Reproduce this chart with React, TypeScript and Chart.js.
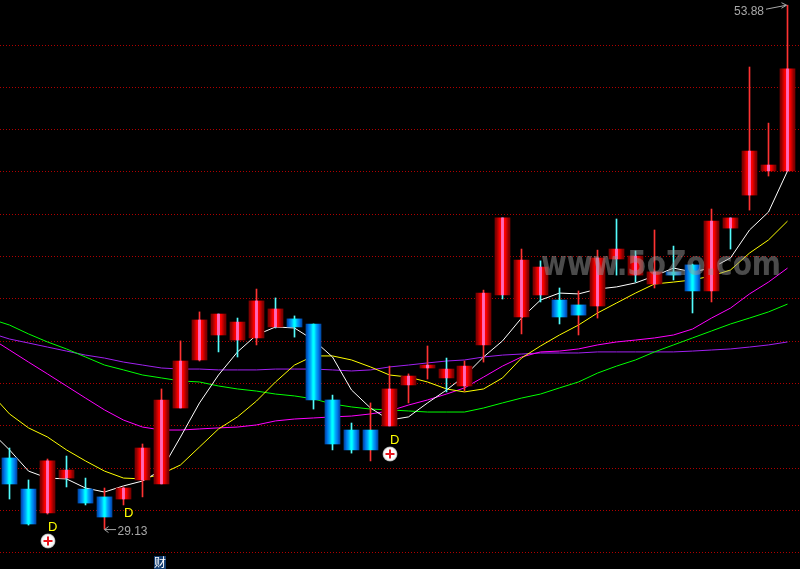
import React, { useEffect, useRef } from "react";
import { Chart, registerables } from "chart.js";

Chart.register(...registerables);

const opens = [32.49, 31.02, 29.89, 31.54, 31.02, 30.65, 30.55, 31.45, 31.26, 34.85, 37.12, 38.30, 38.06, 38.16, 38.68, 39.06, 38.82, 35.23, 33.81, 33.81, 34.00, 35.94, 36.74, 36.27, 35.89, 37.83, 40.19, 39.15, 40.19, 39.95, 39.72, 39.67, 41.89, 41.13, 40.71, 41.28, 41.61, 40.38, 43.35, 44.91, 46.05, 46.05];
const closes = [31.26, 29.37, 32.35, 31.92, 30.36, 29.70, 31.07, 32.96, 35.23, 37.07, 39.01, 39.29, 38.91, 39.91, 39.53, 38.68, 35.23, 33.15, 32.87, 32.87, 35.75, 36.36, 36.88, 36.69, 36.83, 40.28, 43.83, 41.84, 41.51, 39.15, 39.24, 41.94, 42.36, 42.03, 41.28, 41.13, 40.38, 43.68, 43.83, 46.99, 46.33, 50.87];
const highs = [32.96, 31.45, 32.44, 32.58, 31.54, 31.07, 31.12, 33.15, 35.75, 38.02, 39.39, 39.29, 39.10, 40.47, 40.05, 39.20, 38.82, 35.46, 34.14, 35.09, 36.83, 36.46, 37.78, 37.21, 37.07, 40.42, 43.83, 42.36, 41.80, 40.52, 40.38, 42.31, 43.78, 42.27, 43.26, 42.50, 41.65, 44.25, 43.83, 50.96, 48.31, 53.88];
const lows = [30.55, 29.32, 29.84, 31.12, 30.27, 29.13, 30.27, 30.65, 31.26, 34.85, 37.07, 37.50, 37.26, 37.83, 38.63, 38.20, 34.80, 32.87, 32.72, 32.35, 34.00, 35.09, 36.22, 35.61, 35.65, 37.02, 40.00, 38.35, 39.86, 38.82, 38.30, 39.10, 41.13, 40.80, 40.52, 40.90, 39.34, 39.86, 42.36, 44.20, 45.81, 46.05];
const cyanWicks = [0, 1, 3, 4, 11, 12, 14, 15, 16, 17, 18, 23, 26, 28, 29, 32, 33, 35, 36, 38];

// moving averages: first value belongs to the session just before the visible window
const maWhite = [33.76, 32.87, 31.87, 31.54, 31.50, 31.07, 30.88, 31.17, 31.40, 31.92, 33.48, 35.09, 36.41, 37.50, 38.30, 38.68, 38.63, 38.06, 37.26, 35.70, 34.85, 34.28, 34.43, 35.09, 35.70, 36.36, 37.26, 38.02, 39.10, 39.95, 40.28, 40.24, 40.47, 40.57, 40.76, 41.09, 41.46, 41.28, 41.46, 41.94, 43.26, 44.11, 46.05];
const maYellow = [35.56, 34.57, 33.91, 33.48, 32.87, 32.35, 31.87, 31.54, 31.50, 31.73, 32.16, 33.01, 33.86, 34.43, 35.18, 36.08, 36.88, 37.31, 37.31, 37.12, 36.79, 36.41, 36.31, 36.08, 35.75, 35.61, 35.75, 36.27, 37.21, 37.78, 38.30, 38.77, 39.34, 39.81, 40.28, 40.71, 40.80, 40.90, 41.09, 41.37, 42.17, 42.79, 43.68];
const maMagenta = [38.16, 37.59, 37.02, 36.46, 35.89, 35.32, 34.76, 34.28, 33.95, 33.81, 33.81, 33.86, 33.91, 33.95, 34.05, 34.24, 34.33, 34.38, 34.43, 34.47, 34.57, 34.71, 34.99, 35.23, 35.51, 35.80, 36.31, 36.83, 37.26, 37.50, 37.54, 37.64, 37.83, 37.97, 38.06, 38.16, 38.30, 38.58, 39.10, 39.57, 40.24, 40.80, 41.46];
const maGreen = [39.06, 38.77, 38.35, 37.97, 37.64, 37.26, 36.88, 36.65, 36.41, 36.27, 36.13, 36.08, 35.89, 35.75, 35.65, 35.51, 35.42, 35.28, 35.04, 34.90, 34.80, 34.76, 34.71, 34.66, 34.66, 34.66, 34.85, 35.09, 35.32, 35.51, 35.80, 36.08, 36.50, 36.83, 37.12, 37.50, 37.83, 38.16, 38.49, 38.82, 39.10, 39.39, 39.76];
const maPurple = [38.39, 38.11, 37.92, 37.73, 37.54, 37.35, 37.21, 37.02, 36.88, 36.74, 36.69, 36.69, 36.65, 36.65, 36.65, 36.69, 36.69, 36.69, 36.65, 36.60, 36.65, 36.79, 36.88, 36.98, 37.07, 37.12, 37.26, 37.35, 37.40, 37.45, 37.45, 37.45, 37.50, 37.50, 37.50, 37.50, 37.50, 37.54, 37.59, 37.64, 37.73, 37.83, 37.97];

const signalSessions = [2, 6, 20];
const buySessions = [2, 20];
const highLabel = "53.88";
const lowLabel = "29.13";
const watermark = "www.5oZo.com";
const badge = "财";
const TOP_GRID_PRICE = 52;

const REDS = ["#800000", "#900000", "#b00000", "#d00000", "#f00000", "#ff0000", "#ff60b0", "#ff69b4", "#ff60b0", "#ff0000", "#f00000", "#d00000", "#b00000", "#900000", "#800000"];
const BLUES = ["#0050b0", "#0060d0", "#0078e8", "#0090f0", "#00a8f8", "#00c8ff", "#00f0ff", "#00ffff", "#00f0ff", "#00c8ff", "#00a8f8", "#0090f0", "#0078e8", "#0060d0", "#0050b0"];

const BAR_WIDTH = REDS.length;
// sessions after the 24th sit one pixel closer, as in the terminal's rounding
const xOf = (i: number) => (i < 24 ? i : i - 1 / 19);

function stripes(chart: any, i: number, colors: string[]) {
  const cx = chart.scales.x ? chart.scales.x.getPixelForValue(xOf(i)) : NaN;
  if (!Number.isFinite(cx)) return colors[7];
  const left = cx - BAR_WIDTH / 2;
  const g = chart.ctx.createLinearGradient(left, 0, left + BAR_WIDTH, 0);
  colors.forEach((c, k) => {
    g.addColorStop(k / colors.length, c);
    g.addColorStop((k + 1) / colors.length, c);
  });
  return g;
}

const overlay = {
  id: "overlay",
  beforeDraw(chart: any) {
    const { ctx, width, height } = chart;
    ctx.save();
    ctx.fillStyle = "#000";
    ctx.fillRect(0, 0, width, height);
    ctx.restore();
  },
  afterDatasetsDraw(chart: any) {
    const { ctx, scales } = chart;
    const x = scales.x;
    const y = scales.y;
    ctx.save();

    // signal letters
    ctx.font = "13px 'Liberation Sans'";
    ctx.fillStyle = "#ffff00";
    ctx.textAlign = "left";
    ctx.textBaseline = "alphabetic";
    signalSessions.forEach((i) => {
      const bottom = y.getPixelForValue(Math.min(opens[i], closes[i]));
      ctx.fillText("D", x.getPixelForValue(xOf(i)) + 0.5, bottom + 18);
    });

    // buy markers
    buySessions.forEach((i) => {
      const cx = x.getPixelForValue(xOf(i)) + 0.5;
      const cy = y.getPixelForValue(Math.min(opens[i], closes[i])) + 28;
      const g = ctx.createRadialGradient(cx, cy, 3, cx, cy, 7.5);
      g.addColorStop(0, "#ffffff");
      g.addColorStop(0.7, "#f4f4f4");
      g.addColorStop(1, "#8a8a8a");
      ctx.fillStyle = g;
      ctx.beginPath();
      ctx.arc(cx, cy, 7.5, 0, Math.PI * 2);
      ctx.fill();
      ctx.fillStyle = "#e8141c";
      ctx.fillRect(cx - 4.5, cy - 1, 9, 2);
      ctx.fillRect(cx - 1, cy - 4.5, 2, 9);
    });

    // extreme labels with arrows
    ctx.font = "12px 'Liberation Sans'";
    ctx.fillStyle = "#a8a8a8";
    ctx.strokeStyle = "#a8a8a8";
    ctx.lineWidth = 1;
    const hiX = x.getPixelForValue(xOf(41));
    const hiY = y.getPixelForValue(Math.max(...highs));
    ctx.textAlign = "right";
    ctx.fillText(highLabel, hiX - 23.5, hiY + 10);
    ctx.beginPath();
    ctx.moveTo(hiX - 21.5, hiY + 4);
    ctx.lineTo(hiX - 1, hiY);
    ctx.moveTo(hiX - 6, hiY - 2.5);
    ctx.lineTo(hiX - 1, hiY);
    ctx.lineTo(hiX - 6, hiY + 3);
    ctx.stroke();

    const loX = x.getPixelForValue(xOf(5));
    const loY = y.getPixelForValue(Math.min(...lows));
    ctx.textAlign = "left";
    ctx.fillText(lowLabel, loX + 13, loY + 6);
    ctx.beginPath();
    ctx.moveTo(loX + 11.5, loY + 0.5);
    ctx.lineTo(loX, loY + 0.5);
    ctx.moveTo(loX + 4, loY - 2.5);
    ctx.lineTo(loX, loY + 0.5);
    ctx.lineTo(loX + 4, loY + 3.5);
    ctx.stroke();

    // badge at the foot of the chart
    ctx.fillStyle = "#123c70";
    ctx.fillRect(154, 556, 12, 13);
    ctx.fillStyle = "#ffffff";
    ctx.font = "12px 'Noto Sans CJK SC'";
    ctx.textAlign = "center";
    ctx.fillText(badge, 160, 567);

    // watermark
    ctx.font = "bold 33px 'DejaVu Sans'";
    ctx.fillStyle = "rgba(150,150,150,0.5)";
    ctx.textAlign = "left";
    ctx.fillText(watermark, 541, 275, 240);
    ctx.restore();
  },
};

export default function App() {
  const ref = useRef<HTMLCanvasElement>(null);

  useEffect(() => {
    if (!ref.current) return;
    const line = (label: string, values: number[], color: string) => ({
      type: "line" as const,
      label,
      data: values.map((v, i) => ({ x: xOf(i - 1), y: v })),
      borderColor: color,
      borderWidth: 1,
      pointRadius: 0,
      tension: 0,
      order: 3,
    });
    const chart = new Chart(ref.current, {
      type: "bar",
      data: {
        datasets: [
          line("MA5", maWhite, "#ffffff"),
          line("MA10", maYellow, "#ffff00"),
          line("MA20", maMagenta, "#ff00ff"),
          line("MA30", maGreen, "#00ff00"),
          line("MA60", maPurple, "#a020f0"),
          {
            type: "bar" as const,
            label: "wick",
            data: highs.map((h, i) => ({ x: xOf(i), y: [lows[i], h] })),
            backgroundColor: (c: any) => (cyanWicks.includes(c.dataIndex) ? "#54fcfc" : "#ff3232"),
            barThickness: 1,
            grouped: false,
            order: 2,
          },
          {
            type: "bar" as const,
            label: "body",
            data: opens.map((o, i) => ({ x: xOf(i), y: [o, closes[i]] })),
            backgroundColor: (c: any) =>
              closes[c.dataIndex] >= opens[c.dataIndex]
                ? stripes(c.chart, c.dataIndex, REDS)
                : stripes(c.chart, c.dataIndex, BLUES),
            barThickness: BAR_WIDTH,
            grouped: false,
            order: 1,
          },
        ] as any,
      },
      options: {
        responsive: false,
        animation: false,
        events: [],
        layout: { padding: 0 },
        plugins: { legend: { display: false }, tooltip: { enabled: false } },
        scales: {
          x: {
            type: "linear",
            min: -0.5,
            max: -0.5 + 800 / 19,
            offset: false,
            display: false,
            grid: { display: false },
          },
          y: {
            type: "linear",
            min: 27.244,
            max: 54.126,
            afterBuildTicks: (s: any) => {
              s.ticks = s.ticks.filter((t: any) => t.value <= TOP_GRID_PRICE);
            },
            grid: { color: "#b00000", drawTicks: false, lineWidth: 1 },
            border: { display: false, dash: [1, 2] },
            ticks: { display: false, stepSize: 2, includeBounds: false },
          },
        },
      },
      plugins: [overlay],
    });
    return () => chart.destroy();
  }, []);

  return (
    <canvas
      ref={ref}
      width={800}
      height={569}
      style={{ position: "fixed", left: 0, top: 0, display: "block", background: "#000" }}
    />
  );
}
